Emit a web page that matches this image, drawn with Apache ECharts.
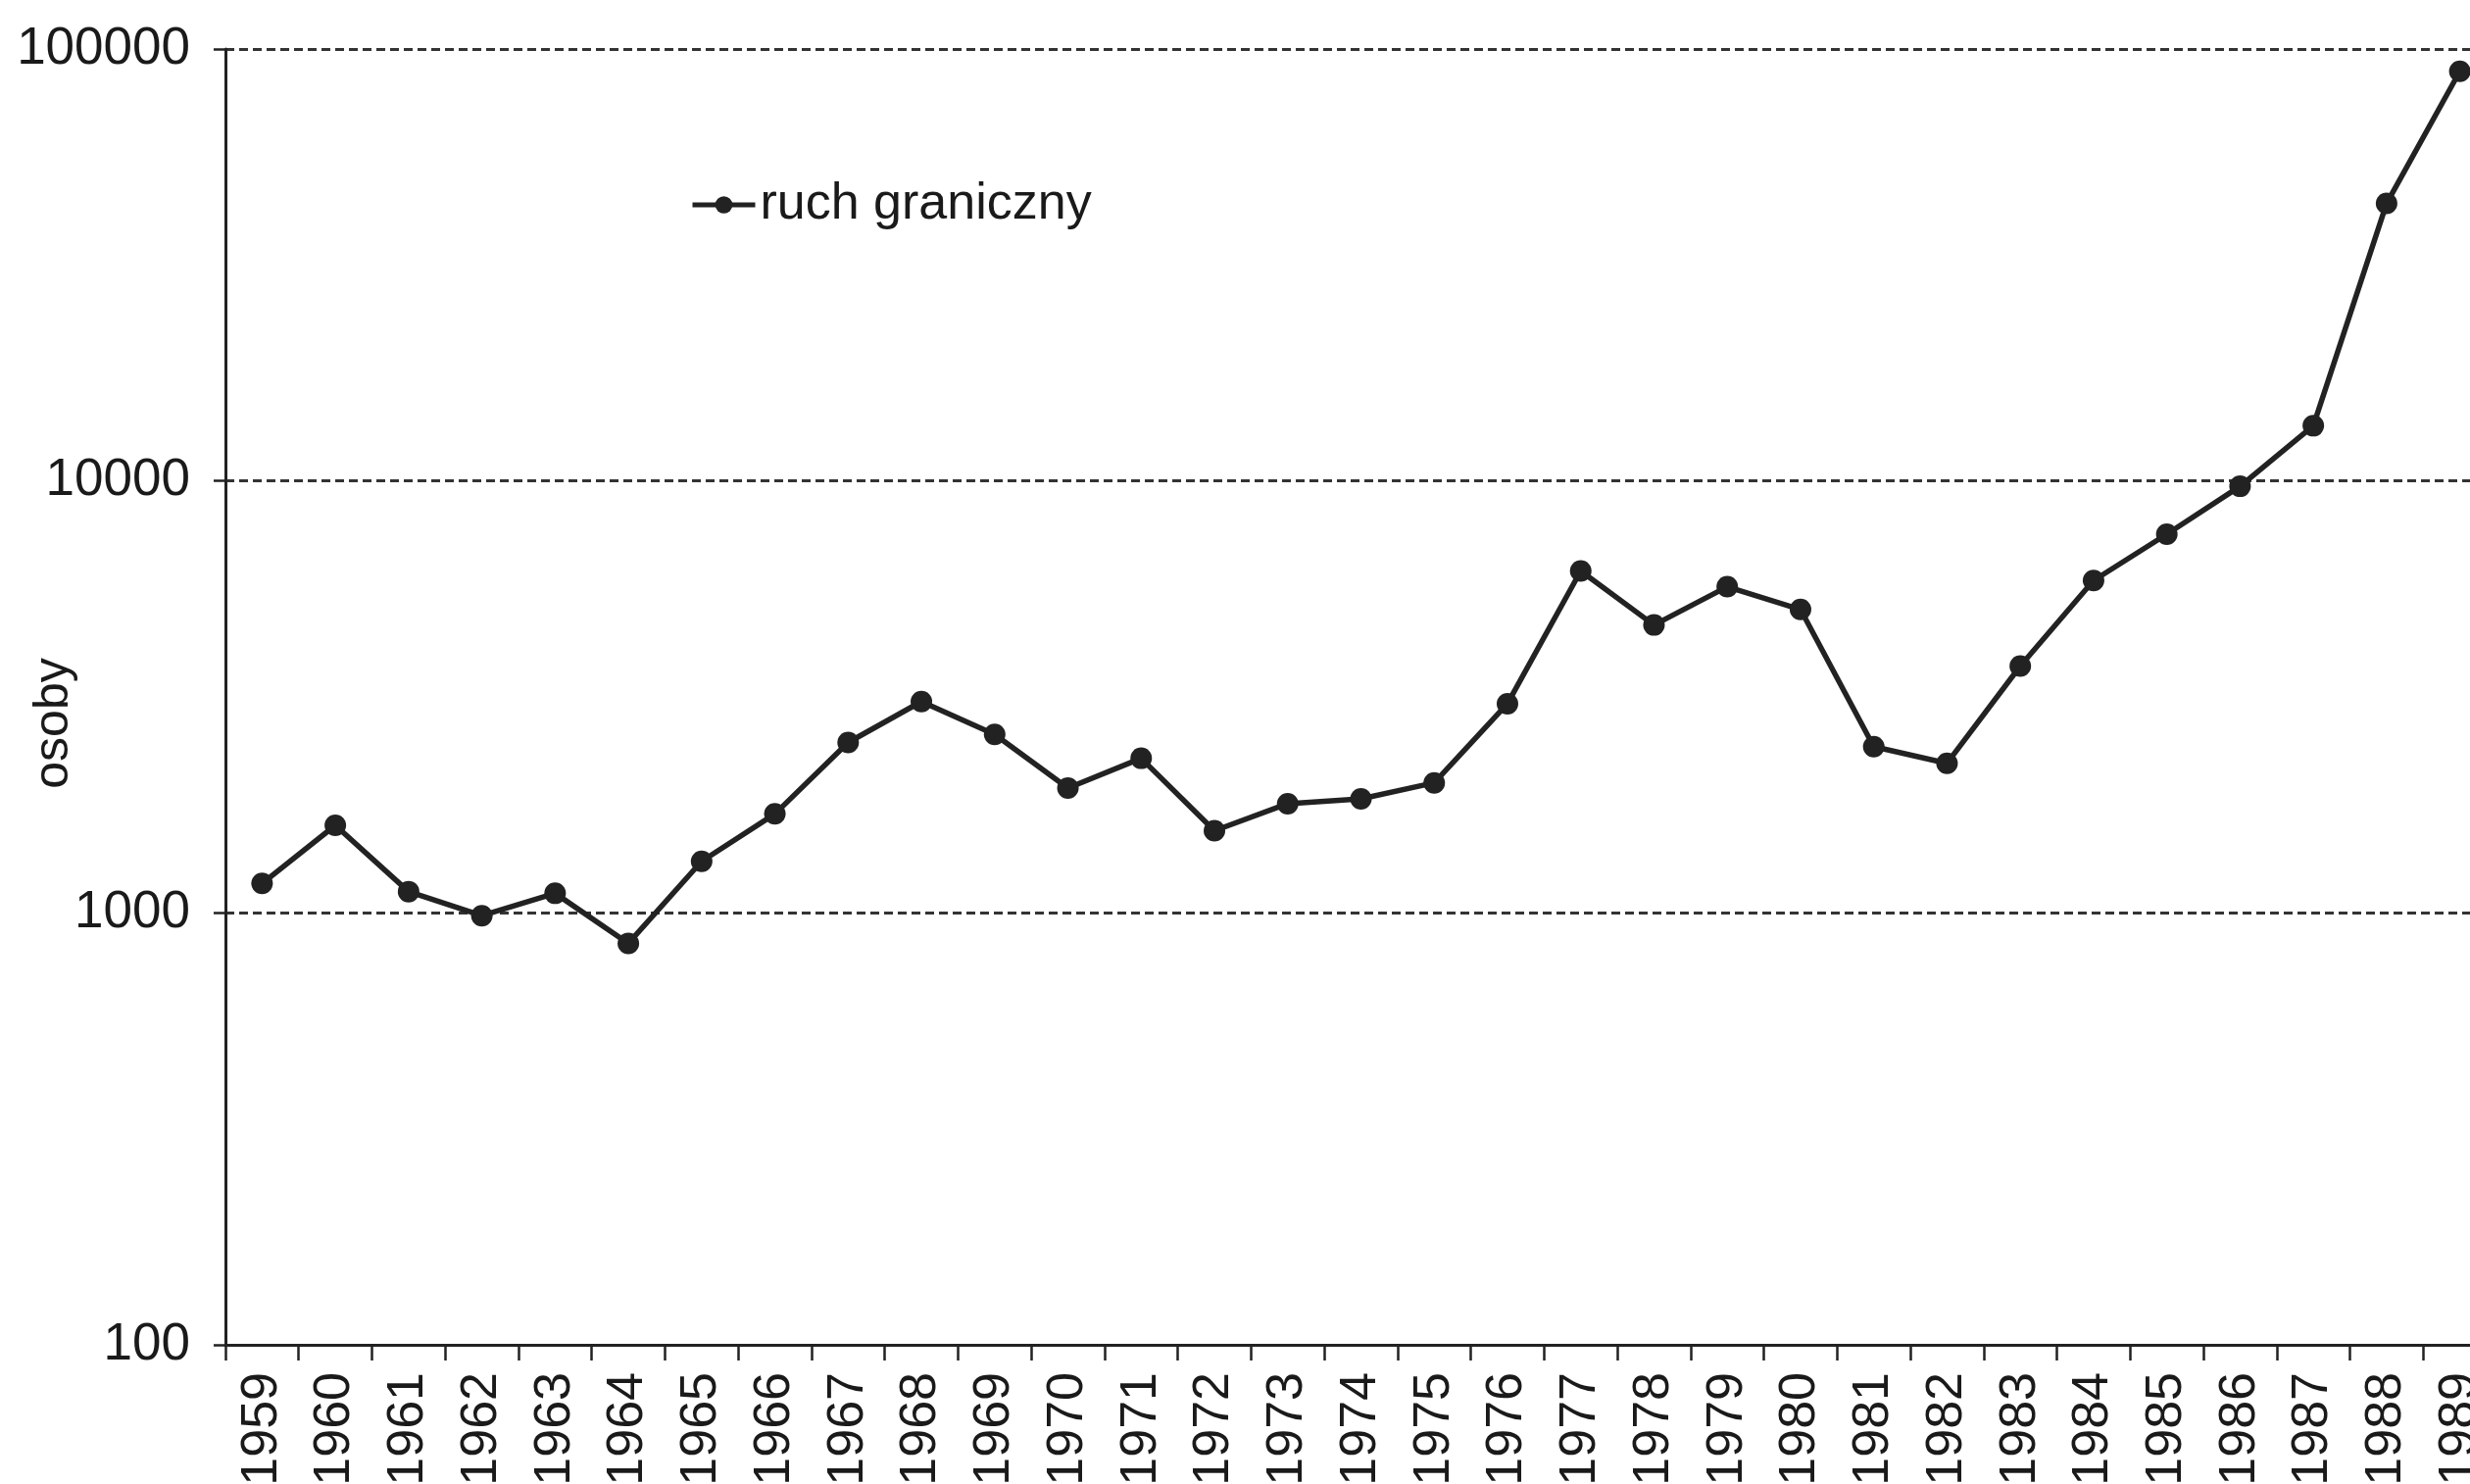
<!DOCTYPE html>
<html>
<head>
<meta charset="utf-8">
<script src="https://cdn.jsdelivr.net/npm/echarts@6/dist/echarts.min.js"></script>
<style>
html,body{margin:0;padding:0;background:#fff;}
#chart{width:2520px;height:1514px;}
</style>
</head>
<body>
<div id="chart"></div>
<script>
const years = ['1959','1960','1961','1962','1963','1964','1965','1966','1967','1968','1969','1970','1971','1972','1973','1974','1975','1976','1977','1978','1979','1980','1981','1982','1983','1984','1985','1986','1987','1988','1989'];
const ruchGraniczny = [1170,1595,1120,985,1110,850,1316,1695,2480,3085,2590,1945,2280,1550,1790,1836,2000,3050,6190,4640,5690,5040,2425,2220,3728,5880,7530,9720,13420,43900,88800];
const seriesName = 'ruch graniczny';
const yAxisName = 'osoby';

const chart = echarts.init(document.getElementById('chart'));
const txt = '#1a1a1a';
const font = 'Liberation Sans, Arial, sans-serif';
chart.setOption({
  backgroundColor: '#ffffff',
  animation: false,
  grid: { left: 230, right: -27, top: 50, bottom: 142, containLabel: false, outerBoundsMode: 'none' },
  legend: {
    data: [seriesName],
    left: 699, top: 178,
    itemWidth: 64, itemHeight: 22, itemGap: 10,
    lineStyle: { width: 5 },
    textStyle: { fontFamily: font, fontSize: 52, color: txt, padding: [0,0,0,0] }
  },
  xAxis: {
    type: 'category',
    data: years,
    boundaryGap: true,
    axisLine: { show: true, lineStyle: { color: '#222', width: 3 } },
    axisTick: { show: true, length: 16, inside: false, lineStyle: { color: '#222', width: 2.5 } },
    axisLabel: { rotate: 90, margin: 28, interval: 0, fontFamily: font, fontSize: 52, color: txt }
  },
  yAxis: {
    type: 'log',
    logBase: 10,
    min: 100, max: 100000,
    name: yAxisName,
    nameLocation: 'middle',
    nameRotate: 90,
    nameGap: 150,
    nameMoveOverlap: false,
    nameTextStyle: { fontFamily: font, fontSize: 50, color: txt, padding: [0, 54, 0, 0] },
    axisLine: { show: true, lineStyle: { color: '#222', width: 3 } },
    axisTick: { show: true, length: 12, inside: false, lineStyle: { color: '#222', width: 2.5 } },
    axisLabel: { margin: 36, fontFamily: font, fontSize: 53, color: txt, formatter: function (v) { return String(Math.round(v)); } },
    splitLine: { show: true, lineStyle: { color: '#333', width: 3, type: [9, 5] } }
  },
  series: [{
    name: seriesName,
    type: 'line',
    data: ruchGraniczny,
    symbol: 'circle',
    symbolSize: 22,
    lineStyle: { color: '#222', width: 5.5 },
    itemStyle: { color: '#222' },
    clip: false
  }]
});
</script>
</body>
</html>
